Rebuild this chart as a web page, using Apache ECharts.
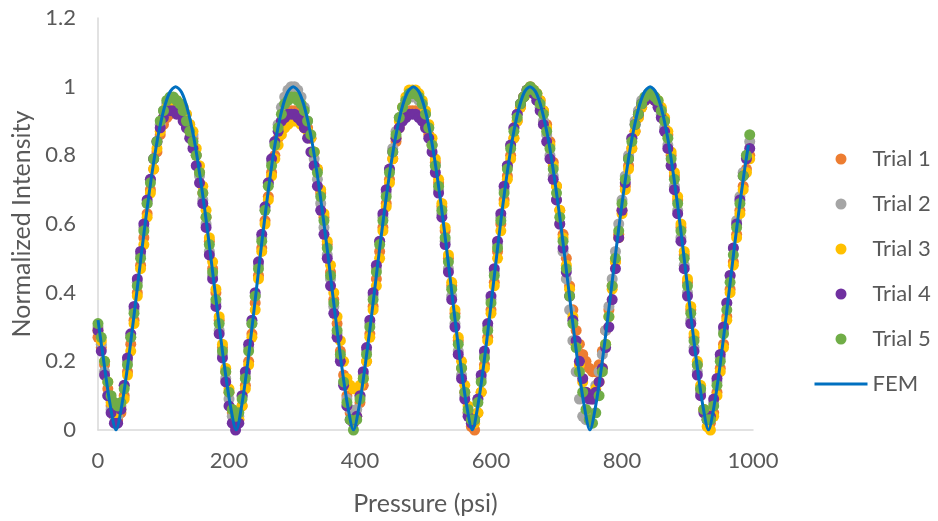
<!DOCTYPE html>
<html><head><meta charset="utf-8">
<script src="https://cdn.jsdelivr.net/npm/echarts@6/dist/echarts.min.js"></script>
<style>html,body{margin:0;padding:0;background:#fff}#c{width:938px;height:521px}</style>
</head><body><div id="c"></div>
<script>
// Pressure readings shared by all trials (psi)
const pressure = [
0,5,10,15,20,25,30,35,40,45,50,55,60,65,70,75,80,85,90,95,
100,105,110,115,120,125,130,135,140,145,150,155,160,165,170,175,180,185,190,195,
200,205,210,215,220,225,230,235,240,245,250,255,260,265,270,275,280,285,290,295,
300,305,310,315,320,325,330,335,340,345,350,355,360,365,370,375,380,385,390,395,
400,405,410,415,420,425,430,435,440,445,450,455,460,465,470,475,480,485,490,495,
500,505,510,515,520,525,530,535,540,545,550,555,560,565,570,575,580,585,590,595,
600,605,610,615,620,625,630,635,640,645,650,655,660,665,670,675,680,685,690,695,
700,705,710,715,720,725,730,735,740,745,750,755,760,765,770,775,780,785,790,795,
800,805,810,815,820,825,830,835,840,845,850,855,860,865,870,875,880,885,890,895,
900,905,910,915,920,925,930,935,940,945,950,955,960,965,970,975,980,985,990,995];

const trial1 = [
.27,.24,.19,.12,.07,.04,.03,.05,.1,.17,.25,.32,.4,.48,.56,.63,.7,.76,.81,.86,
.89,.91,.92,.93,.93,.92,.91,.89,.87,.85,.8,.75,.69,.62,.55,.47,.4,.32,.24,.17,
.11,.05,.02,.03,.07,.13,.2,.28,.37,.45,.53,.61,.68,.75,.8,.85,.89,.91,.92,.93,
.93,.92,.91,.9,.88,.85,.81,.76,.69,.62,.54,.46,.38,.31,.23,.16,.1,.05,.03,.04,
.08,.13,.2,.28,.36,.44,.52,.59,.66,.73,.79,.84,.88,.91,.92,.93,.93,.93,.92,.91,
.89,.86,.83,.78,.72,.65,.58,.5,.42,.34,.26,.18,.11,.05,.01,0,.05,.11,.19,.27,
.35,.43,.52,.6,.67,.74,.8,.85,.9,.94,.97,.99,1.0,.99,.98,.96,.93,.89,.84,.78,
.71,.64,.57,.5,.42,.35,.29,.25,.22,.2,.18,.17,.17,.19,.23,.29,.35,.42,.49,.57,
.64,.71,.77,.82,.87,.91,.94,.96,.97,.97,.96,.95,.93,.9,.86,.8,.74,.67,.59,.51,
.43,.35,.27,.19,.12,.06,.03,.02,.05,.11,.18,.25,.33,.41,.49,.57,.64,.71,.76,.8];

const trial2 = [
.30,.25,.17,.1,.06,.04,.04,.07,.13,.2,.27,.35,.43,.51,.59,.66,.73,.79,.84,.89,
.93,.95,.96,.96,.96,.95,.94,.92,.89,.86,.8,.74,.67,.6,.52,.45,.37,.29,.22,.15,
.09,.04,.02,.04,.1,.16,.24,.31,.39,.48,.56,.64,.72,.78,.84,.89,.94,.97,.99,1.0,
1.0,.99,.97,.94,.9,.85,.79,.73,.66,.59,.51,.44,.36,.28,.21,.14,.09,.06,.05,.06,
.1,.16,.23,.31,.39,.47,.55,.62,.69,.76,.82,.87,.91,.94,.96,.97,.97,.97,.96,.95,
.92,.88,.83,.77,.7,.63,.55,.47,.39,.31,.23,.16,.1,.05,.03,.04,.09,.15,.22,.3,
.38,.46,.54,.62,.7,.77,.83,.88,.92,.95,.97,.99,.99,.98,.96,.94,.9,.86,.8,.74,
.67,.6,.52,.44,.35,.26,.17,.09,.04,.03,.05,.09,.13,.17,.22,.29,.36,.44,.52,.6,
.67,.74,.8,.85,.9,.93,.96,.97,.98,.98,.97,.95,.92,.88,.83,.77,.71,.64,.56,.48,
.4,.32,.24,.17,.11,.06,.03,.04,.08,.14,.21,.29,.37,.45,.53,.61,.68,.75,.8,.84];

const trial3 = [
.29,.26,.2,.14,.08,.05,.05,.06,.09,.16,.23,.31,.39,.47,.54,.62,.69,.76,.82,.87,
.91,.94,.96,.96,.96,.95,.94,.92,.89,.87,.82,.77,.71,.64,.56,.49,.41,.33,.25,.18,
.12,.06,.03,.03,.07,.12,.19,.27,.35,.44,.52,.6,.67,.74,.79,.83,.86,.88,.89,.9,
.9,.9,.89,.88,.87,.85,.81,.76,.7,.63,.55,.48,.4,.33,.26,.2,.15,.13,.12,.12,
.13,.15,.2,.27,.35,.42,.5,.58,.65,.72,.79,.85,.9,.94,.97,.99,.99,.99,.98,.96,
.93,.89,.85,.79,.73,.66,.59,.51,.43,.35,.27,.2,.13,.07,.03,.02,.05,.11,.18,.26,
.34,.42,.5,.58,.66,.73,.79,.85,.9,.94,.97,.98,.99,.99,.98,.96,.93,.88,.83,.77,
.71,.64,.56,.48,.41,.33,.25,.19,.14,.11,.1,.1,.12,.14,.18,.25,.33,.41,.49,.56,
.63,.7,.76,.82,.87,.91,.94,.96,.97,.97,.97,.96,.94,.91,.87,.81,.75,.68,.6,.52,
.44,.36,.28,.2,.13,.06,.01,0,.04,.1,.17,.24,.32,.4,.48,.56,.63,.7,.75,.79];

const trial4 = [
.29,.23,.16,.1,.05,.02,.02,.06,.13,.21,.28,.36,.44,.52,.6,.67,.73,.79,.84,.88,
.91,.93,.93,.93,.92,.92,.9,.88,.85,.82,.77,.72,.66,.59,.51,.44,.36,.28,.21,.14,
.07,.02,0,.02,.1,.17,.25,.32,.4,.49,.57,.65,.72,.79,.84,.87,.9,.91,.92,.92,
.92,.91,.9,.88,.85,.81,.77,.71,.64,.57,.5,.42,.34,.27,.2,.13,.07,.03,.02,.04,
.1,.17,.24,.32,.4,.48,.55,.63,.7,.76,.81,.85,.88,.9,.91,.92,.92,.92,.91,.9,
.88,.85,.81,.75,.69,.62,.54,.46,.38,.3,.22,.15,.09,.04,.02,.03,.09,.16,.23,.31,
.39,.47,.55,.63,.71,.77,.83,.88,.92,.95,.97,.99,.99,.98,.96,.93,.89,.84,.79,.73,
.67,.6,.53,.46,.39,.32,.26,.2,.15,.11,.09,.09,.11,.14,.18,.24,.3,.38,.47,.56,
.64,.72,.79,.85,.89,.92,.95,.96,.97,.97,.96,.94,.91,.87,.82,.77,.7,.63,.55,.47,
.39,.31,.23,.16,.1,.05,.03,.04,.09,.15,.22,.3,.37,.45,.53,.6,.67,.74,.79,.82];

const trial5 = [
.31,.27,.2,.14,.1,.08,.07,.08,.12,.19,.27,.34,.42,.5,.58,.66,.72,.79,.84,.9,
.93,.96,.97,.97,.96,.95,.93,.9,.87,.84,.8,.75,.69,.62,.54,.46,.38,.31,.23,.17,
.11,.06,.04,.05,.09,.15,.23,.31,.39,.47,.55,.64,.71,.77,.83,.88,.92,.95,.96,.97,
.97,.96,.95,.93,.9,.86,.81,.75,.68,.61,.53,.45,.37,.29,.22,.14,.08,.03,0,.03,
.09,.15,.22,.3,.38,.46,.54,.61,.68,.75,.81,.86,.91,.94,.96,.98,.98,.98,.97,.95,
.92,.88,.83,.77,.71,.64,.56,.49,.41,.33,.25,.18,.11,.06,.03,.03,.08,.14,.21,.29,
.37,.45,.53,.61,.69,.76,.82,.87,.91,.95,.97,.99,1.0,.99,.98,.95,.92,.87,.82,.76,
.69,.62,.55,.47,.39,.31,.24,.17,.11,.06,.03,.02,.05,.1,.17,.25,.33,.42,.5,.58,
.66,.73,.79,.84,.89,.92,.95,.97,.98,.98,.97,.96,.93,.9,.85,.79,.73,.66,.58,.5,
.42,.34,.26,.19,.12,.06,.03,.03,.07,.13,.2,.28,.35,.43,.51,.59,.66,.74,.8,.86];

// FEM model curve (pressure, intensity)
const femPressure = [
0,9.3,18.4,27.5,
36.6,45.7,54.8,63.9,73,82.1,91.2,100.3,109.4,118.5,
127.8,137,146.3,155.5,164.8,174,183.3,192.5,201.8,211,
219.7,228.4,237.1,245.8,254.5,263.2,271.9,280.6,289.3,298,
307.2,316.4,325.6,334.8,344,353.2,362.4,371.6,380.8,390,
399.2,408.3,417.5,426.6,435.8,444.9,454.1,463.2,472.4,481.5,
490.5,499.5,508.5,517.5,526.5,535.5,544.5,553.5,562.5,571.5,
580.3,589.1,597.9,606.7,615.5,624.3,633.1,641.9,650.7,659.5,
668.7,677.8,687,696.1,705.3,714.4,723.6,732.7,741.9,751,
760.2,769.4,778.6,787.8,797,806.2,815.4,824.6,833.8,843,
851.9,860.8,869.7,878.6,887.5,896.4,905.3,914.2,923.1,932,
941,950,959,968,977,986,993];
const femIntensity = [
0.32,0.193,0.075,0,
0.075,0.193,0.331,0.476,0.616,0.743,0.851,0.932,0.983,1,
0.983,0.932,0.851,0.743,0.616,0.476,0.331,0.193,0.075,0,
0.075,0.193,0.331,0.476,0.616,0.743,0.851,0.932,0.983,1,
0.983,0.932,0.851,0.743,0.616,0.476,0.331,0.193,0.075,0,
0.075,0.193,0.331,0.476,0.616,0.743,0.851,0.932,0.983,1,
0.983,0.932,0.851,0.743,0.616,0.476,0.331,0.193,0.075,0,
0.075,0.193,0.331,0.476,0.616,0.743,0.851,0.932,0.983,1,
0.983,0.932,0.851,0.743,0.616,0.476,0.331,0.193,0.075,0,
0.075,0.193,0.331,0.476,0.616,0.743,0.851,0.932,0.983,1,
0.983,0.932,0.851,0.743,0.616,0.476,0.331,0.193,0.075,0,
0.075,0.193,0.331,0.476,0.616,0.743,0.83];

const trialNames = ['Trial 1','Trial 2','Trial 3','Trial 4','Trial 5'];
const trialColors = ['#ED7D31','#A5A5A5','#FFC000','#7030A0','#70AD47'];
const trialValues = [trial1, trial2, trial3, trial4, trial5];

const font = 'Lato, "Open Sans", sans-serif';
const txt = '#595959';

const series = trialValues.map((vals, k) => ({
  name: trialNames[k],
  type: 'scatter',
  symbol: 'circle',
  symbolSize: 11,
  itemStyle: { color: trialColors[k], opacity: 1 },
  data: pressure.map((p, i) => [p, vals[i]])
}));
series.push({
  name: 'FEM',
  type: 'line',
  symbol: 'none',
  showSymbol: false,
  smooth: 0.3,
  lineStyle: { color: '#0070C0', width: 3 },
  itemStyle: { color: '#0070C0' },
  data: femPressure.map((p, i) => [p, femIntensity[i]])
});

const chart = echarts.init(document.getElementById('c'));
chart.setOption({
  animation: false,
  backgroundColor: '#ffffff',
  grid: { left: 98, right: 185, top: 18, bottom: 88 },
  xAxis: {
    type: 'value', min: 0, max: 1000, interval: 200,
    name: 'Pressure (psi)', nameLocation: 'middle', nameGap: 61,
    nameTextStyle: { color: txt, fontSize: 25, fontFamily: font },
    axisLine: { show: true, lineStyle: { color: '#D9D9D9', width: 1.5 } },
    axisTick: { show: false },
    splitLine: { show: false },
    axisLabel: { color: txt, fontSize: 22, fontFamily: font, margin: 20, formatter: v => String(v) }
  },
  yAxis: {
    type: 'value', min: 0, max: 1.2, interval: 0.2,
    name: 'Normalized Intensity', nameLocation: 'middle', nameGap: 55,
    nameTextStyle: { color: txt, fontSize: 25, fontFamily: font },
    axisLine: { show: true, lineStyle: { color: '#D9D9D9', width: 1.5 } },
    axisTick: { show: false },
    splitLine: { show: false },
    axisLabel: { color: txt, fontSize: 22, fontFamily: font, margin: 22 }
  },
  legend: {
    orient: 'vertical', left: 808, top: 143,
    itemWidth: 53, itemHeight: 11, itemGap: 23,
    textStyle: { color: txt, fontSize: 22, fontFamily: font, lineHeight: 22 },
    data: ['Trial 1','Trial 2','Trial 3','Trial 4','Trial 5',
      { name: 'FEM', itemStyle: { opacity: 0 }, lineStyle: { width: 3, color: '#0070C0' } }]
  },
  series: series
});
</script>
</body></html>
